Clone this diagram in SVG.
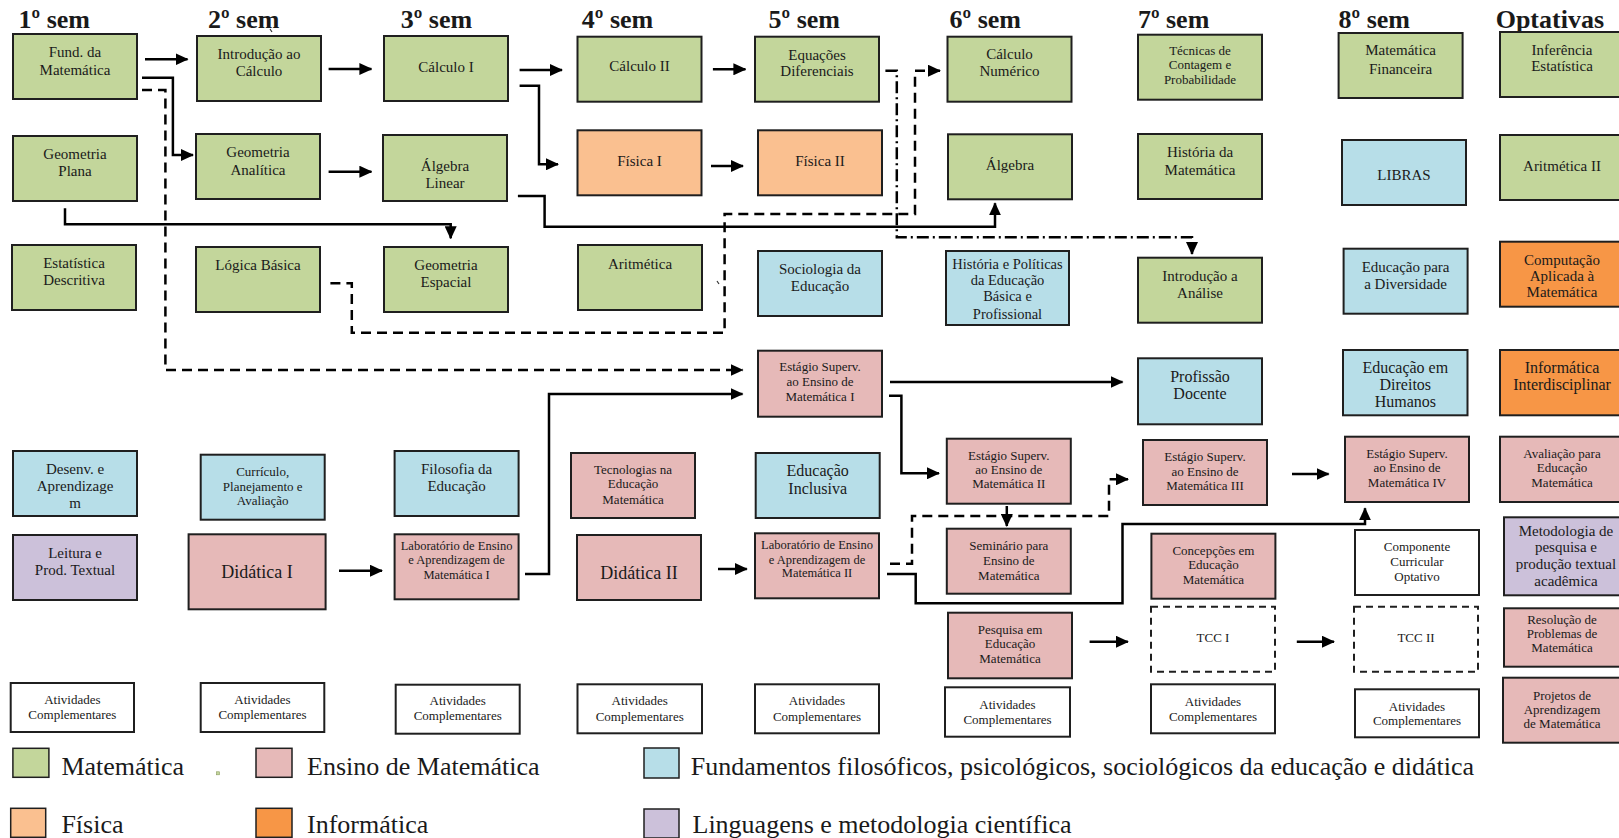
<svg xmlns="http://www.w3.org/2000/svg" width="1619" height="838" viewBox="0 0 1619 838">
<style>
.bx{stroke:#1f1f1f;stroke-width:2}
.g{fill:#C3D69B}.p{fill:#E6B9B8}.bl{fill:#B7DEE8}.f{fill:#FAC090}.o{fill:#F79646}.l{fill:#CCC1DA}.w{fill:#fff}
.dsh{stroke-dasharray:7,5}
text,tspan{font-family:"Liberation Serif","Times New Roman",serif;fill:#1a1a1a}
.t{font-family:"Liberation Serif","Times New Roman",serif;text-anchor:middle;font-size:15px}
.s{font-family:"Liberation Serif","Times New Roman",serif;text-anchor:middle;font-size:13px}
.xs{font-family:"Liberation Serif","Times New Roman",serif;text-anchor:middle;font-size:12.5px}
.L{font-family:"Liberation Serif","Times New Roman",serif;text-anchor:middle;font-size:18px}
.h{font-family:"Liberation Serif","Times New Roman",serif;font-size:26px;font-weight:bold}
.lg{font-family:"Liberation Serif","Times New Roman",serif;font-size:26px}
.c{fill:none;stroke:#000;stroke-width:2.5}
.d{stroke-dasharray:10,6}
.dd{stroke-dasharray:12,4,2,4}
</style>
<defs>
<marker id="ah" markerUnits="userSpaceOnUse" markerWidth="13" markerHeight="12" refX="12" refY="6" orient="auto">
<path d="M0,0 L13,6 L0,12 z" fill="#000"/>
</marker>
</defs>

<g id="headers">
<text class="h" x="18.6" y="28">1º sem</text>
<text class="h" x="208" y="28">2º sem</text>
<text class="h" x="400.7" y="28">3º sem</text>
<text class="h" x="581.8" y="28">4º sem</text>
<text class="h" x="768.6" y="28">5º sem</text>
<text class="h" x="949.6" y="28">6º sem</text>
<text class="h" x="1137.9" y="28">7º sem</text>
<text class="h" x="1338.6" y="28">8º sem</text>
<text class="h" x="1495.7" y="28">Optativas</text>
</g>

<g id="connectors">
<path class="c" d="M145,59.3 H187.5" marker-end="url(#ah)"/>
<path class="c" d="M142,77.7 H172.9 V155 H193" marker-end="url(#ah)"/>
<path class="c d" d="M142,90 H165.4 V370 H742.5" marker-end="url(#ah)"/>
<path class="c" d="M328.6,69 H371.4" marker-end="url(#ah)"/>
<path class="c" d="M519.6,70 H562" marker-end="url(#ah)"/>
<path class="c" d="M519.6,85.7 H539 V164.3 H558" marker-end="url(#ah)"/>
<path class="c" d="M328.6,171.7 H371.4" marker-end="url(#ah)"/>
<path class="c" d="M65,208.3 V224.3 H450.7 V238.3" marker-end="url(#ah)"/>
<path class="c" d="M517.9,196 H544.6 V226.7 H995 V203.3" marker-end="url(#ah)"/>
<path class="c d" d="M330.4,283.3 H351.8 V332.7 H724.6 V214 H915 V70.7 H940" marker-end="url(#ah)"/>
<path class="c" d="M712.9,69.3 H745.4" marker-end="url(#ah)"/>
<path class="c" d="M711,166 H743" marker-end="url(#ah)"/>
<path class="c dd" d="M885.4,70.7 H896.8 V237.3 H1192 V254" marker-end="url(#ah)"/>
<path class="c" d="M525,574 H549 V394 H742.5" marker-end="url(#ah)"/>
<path class="c" d="M339,570.7 H382" marker-end="url(#ah)"/>
<path class="c" d="M718,569 H746.8" marker-end="url(#ah)"/>
<path class="c" d="M890,382 H1122.5" marker-end="url(#ah)"/>
<path class="c" d="M889,395.7 H901.4 V473.3 H939" marker-end="url(#ah)"/>
<path class="c d" d="M890,563.7 H912 V516 H1109 V479.3 H1128" marker-end="url(#ah)"/>
<path class="c" d="M1006.8,506 V526" marker-end="url(#ah)"/>
<path class="c" d="M887,574 H915.7 V603.3 H1122.5 V524 H1365 V508.3" marker-end="url(#ah)"/>
<path class="c" d="M1292,474 H1328.6" marker-end="url(#ah)"/>
<path class="c" d="M1089.6,641.7 H1127.9" marker-end="url(#ah)"/>
<path class="c" d="M1296.8,641.7 H1334" marker-end="url(#ah)"/>
<path d="M270,29 l2,3 M717,281 l2,3" stroke="#333" stroke-width="1.2" fill="none"/>
</g>

<g id="fund"><rect class="bx g" x="13" y="34" width="124" height="65"/><text class="t"><tspan x="75" y="57">Fund. da</tspan><tspan x="75" y="75">Matemática</tspan></text></g>
<g id="intro"><rect class="bx g" x="197" y="36" width="124" height="65"/><text class="t"><tspan x="259" y="59">Introdução ao</tspan><tspan x="259" y="76">Cálculo</tspan></text></g>
<g id="calc1"><rect class="bx g" x="384" y="36" width="124" height="65"/><text class="t"><tspan x="446" y="72">Cálculo I</tspan></text></g>
<g id="geoplana"><rect class="bx g" x="13" y="136" width="124" height="65"/><text class="t"><tspan x="75" y="158.5">Geometria</tspan><tspan x="75" y="176">Plana</tspan></text></g>
<g id="ga"><rect class="bx g" x="196" y="134" width="124" height="65"/><text class="t"><tspan x="258" y="157">Geometria</tspan><tspan x="258" y="174.5">Analítica</tspan></text></g>
<g id="alglin"><rect class="bx g" x="383" y="135" width="124" height="66"/><text class="t"><tspan x="445" y="171">Álgebra</tspan><tspan x="445" y="188">Linear</tspan></text></g>
<g id="estat"><rect class="bx g" x="12" y="245" width="124" height="65"/><text class="t"><tspan x="74" y="267.5">Estatística</tspan><tspan x="74" y="284.5">Descritiva</tspan></text></g>
<g id="logica"><rect class="bx g" x="196" y="247" width="124" height="65"/><text class="t"><tspan x="258" y="269.5">Lógica Básica</tspan></text></g>
<g id="geoesp"><rect class="bx g" x="384" y="247" width="124" height="65"/><text class="t"><tspan x="446" y="269.5">Geometria</tspan><tspan x="446" y="287">Espacial</tspan></text></g>

<g id="calc2"><rect class="bx g" x="577.5" y="36.7" width="124" height="65"/><text class="t"><tspan x="639.5" y="71">Cálculo II</tspan></text></g>
<g id="eqdif"><rect class="bx g" x="755" y="36.7" width="124" height="65"/><text class="t"><tspan x="817" y="59.5">Equações</tspan><tspan x="817" y="76">Diferenciais</tspan></text></g>
<g id="calcnum"><rect class="bx g" x="947.5" y="36.7" width="124" height="65"/><text class="t"><tspan x="1009.5" y="59">Cálculo</tspan><tspan x="1009.5" y="76">Numérico</tspan></text></g>
<g id="fis1"><rect class="bx f" x="577.5" y="130.3" width="124" height="65"/><text class="t"><tspan x="639.5" y="166">Física I</tspan></text></g>
<g id="fis2"><rect class="bx f" x="758" y="130.3" width="124" height="65"/><text class="t"><tspan x="820" y="166">Física II</tspan></text></g>
<g id="algebra"><rect class="bx g" x="948" y="134.3" width="124" height="65"/><text class="t"><tspan x="1010" y="169.5">Álgebra</tspan></text></g>
<g id="aritm"><rect class="bx g" x="578" y="245" width="124" height="65"/><text class="t"><tspan x="640" y="268.5">Aritmética</tspan></text></g>
<g id="socio"><rect class="bx bl" x="758" y="251" width="124" height="65"/><text class="t"><tspan x="820" y="273.5">Sociologia da</tspan><tspan x="820" y="291">Educação</tspan></text></g>
<g id="histpol"><rect class="bx bl" x="946" y="251" width="123" height="74"/><text class="t" style="font-size:14.5px"><tspan x="1007.5" y="268.5">História e Políticas</tspan><tspan x="1007.5" y="284.5">da Educação</tspan><tspan x="1007.5" y="301">Básica e</tspan><tspan x="1007.5" y="319">Profissional</tspan></text></g>

<g id="tecnicas"><rect class="bx g" x="1138" y="34.7" width="124" height="65"/><text class="s"><tspan x="1200" y="55">Técnicas de</tspan><tspan x="1200" y="69.3">Contagem e</tspan><tspan x="1200" y="84.3">Probabilidade</tspan></text></g>
<g id="matfin"><rect class="bx g" x="1338.6" y="33" width="124" height="65"/><text class="t"><tspan x="1400.6" y="55">Matemática</tspan><tspan x="1400.6" y="73.5">Financeira</tspan></text></g>
<g id="inferencia"><rect class="bx g" x="1500" y="32" width="124" height="65"/><text class="t"><tspan x="1562" y="54.5">Inferência</tspan><tspan x="1562" y="71">Estatística</tspan></text></g>
<g id="histmat"><rect class="bx g" x="1138" y="134" width="124" height="65"/><text class="t"><tspan x="1200" y="157">História da</tspan><tspan x="1200" y="174.5">Matemática</tspan></text></g>
<g id="libras"><rect class="bx bl" x="1342" y="140" width="124" height="65"/><text class="t"><tspan x="1404" y="179.5">LIBRAS</tspan></text></g>
<g id="aritm2"><rect class="bx g" x="1500" y="135" width="124" height="65"/><text class="t"><tspan x="1562" y="170.5">Aritmética II</tspan></text></g>
<g id="introanalise"><rect class="bx g" x="1138" y="257.7" width="124" height="65"/><text class="t"><tspan x="1200" y="280.5">Introdução a</tspan><tspan x="1200" y="297.5">Análise</tspan></text></g>
<g id="edudiv"><rect class="bx bl" x="1343.6" y="248.7" width="124" height="65"/><text class="t"><tspan x="1405.6" y="272">Educação para</tspan><tspan x="1405.6" y="288.5">a Diversidade</tspan></text></g>
<g id="compapl"><rect class="bx o" x="1500" y="241.7" width="124" height="65"/><text class="t"><tspan x="1562" y="264.5">Computação</tspan><tspan x="1562" y="280.5">Aplicada à</tspan><tspan x="1562" y="297">Matemática</tspan></text></g>

<g id="desenv"><rect class="bx bl" x="13" y="451" width="124" height="65"/><text class="t"><tspan x="75" y="473.5">Desenv. e</tspan><tspan x="75" y="491">Aprendizage</tspan><tspan x="75" y="508">m</tspan></text></g>
<g id="leitura"><rect class="bx l" x="13" y="535" width="124" height="65"/><text class="t"><tspan x="75" y="557.5">Leitura e</tspan><tspan x="75" y="574.5">Prod. Textual</tspan></text></g>
<g id="curriculo"><rect class="bx bl" x="200.7" y="454.7" width="124" height="65"/><text class="s"><tspan x="262.7" y="475.5">Currículo,</tspan><tspan x="262.7" y="490.5">Planejamento e</tspan><tspan x="262.7" y="505">Avaliação</tspan></text></g>
<g id="didatica1"><rect class="bx p" x="188.6" y="534.3" width="137" height="75"/><text class="L"><tspan x="257.1" y="578">Didática I</tspan></text></g>
<g id="filosofia"><rect class="bx bl" x="394.6" y="451" width="124" height="65"/><text class="t"><tspan x="456.6" y="473.5">Filosofia da</tspan><tspan x="456.6" y="491">Educação</tspan></text></g>
<g id="lab1"><rect class="bx p" x="394.6" y="534.3" width="124" height="65"/><text class="xs"><tspan x="456.6" y="549.5">Laboratório de Ensino</tspan><tspan x="456.6" y="563.8">e Aprendizagem de</tspan><tspan x="456.6" y="578.5">Matemática I</tspan></text></g>
<g id="estagio1"><rect class="bx p" x="758" y="350.7" width="124" height="66"/><text class="s"><tspan x="820" y="371">Estágio Superv.</tspan><tspan x="820" y="386">ao Ensino de</tspan><tspan x="820" y="400.5">Matemática I</tspan></text></g>
<g id="tecnologias"><rect class="bx p" x="571" y="453" width="124" height="65"/><text class="s"><tspan x="633" y="473.5">Tecnologias na</tspan><tspan x="633" y="487.8">Educação</tspan><tspan x="633" y="503.5">Matemática</tspan></text></g>
<g id="didatica2"><rect class="bx p" x="577" y="535" width="124" height="65"/><text class="L"><tspan x="639" y="579">Didática II</tspan></text></g>
<g id="eduinc"><rect class="bx bl" x="755.7" y="453" width="124" height="65"/><text class="t" style="font-size:16px"><tspan x="817.7" y="475.5">Educação</tspan><tspan x="817.7" y="494">Inclusiva</tspan></text></g>
<g id="lab2"><rect class="bx p" x="755" y="533.3" width="124" height="65"/><text class="xs"><tspan x="817" y="548.5">Laboratório de Ensino</tspan><tspan x="817" y="563.5">e Aprendizagem de</tspan><tspan x="817" y="577">Matemática II</tspan></text></g>
<g id="estagio2"><rect class="bx p" x="946.8" y="438.7" width="124" height="65"/><text class="s"><tspan x="1008.8" y="459.5">Estágio Superv.</tspan><tspan x="1008.8" y="473.5">ao Ensino de</tspan><tspan x="1008.8" y="487.8">Matemática II</tspan></text></g>
<g id="seminario"><rect class="bx p" x="946.8" y="528.7" width="124" height="65"/><text class="s"><tspan x="1008.8" y="549.5">Seminário para</tspan><tspan x="1008.8" y="564.5">Ensino de</tspan><tspan x="1008.8" y="579.5">Matemática</tspan></text></g>
<g id="pesquisa"><rect class="bx p" x="948" y="612.7" width="124" height="65.6"/><text class="s"><tspan x="1010" y="633.5">Pesquisa em</tspan><tspan x="1010" y="648">Educação</tspan><tspan x="1010" y="663">Matemática</tspan></text></g>

<g id="profdoc"><rect class="bx bl" x="1138" y="358.3" width="124" height="66"/><text class="t" style="font-size:16px"><tspan x="1200" y="381.5">Profissão</tspan><tspan x="1200" y="399">Docente</tspan></text></g>
<g id="estagio3"><rect class="bx p" x="1143" y="440" width="124" height="65"/><text class="s"><tspan x="1205" y="460.5">Estágio Superv.</tspan><tspan x="1205" y="475.5">ao Ensino de</tspan><tspan x="1205" y="490">Matemática III</tspan></text></g>
<g id="concepcoes"><rect class="bx p" x="1151.4" y="533.7" width="124" height="65"/><text class="s"><tspan x="1213.4" y="554.5">Concepções em</tspan><tspan x="1213.4" y="568.5">Educação</tspan><tspan x="1213.4" y="583.5">Matemática</tspan></text></g>
<g id="tcc1"><rect class="bx w dsh" x="1151" y="606.7" width="124" height="65"/><text class="s"><tspan x="1213" y="641.5">TCC I</tspan></text></g>
<g id="eduDH"><rect class="bx bl" x="1343" y="350" width="124.5" height="65.3"/><text class="t" style="font-size:16px"><tspan x="1405.3" y="373">Educação em</tspan><tspan x="1405.3" y="390">Direitos</tspan><tspan x="1405.3" y="407">Humanos</tspan></text></g>
<g id="estagio4"><rect class="bx p" x="1345" y="436.7" width="124" height="65.3"/><text class="s"><tspan x="1407" y="458">Estágio Superv.</tspan><tspan x="1407" y="472.3">ao Ensino de</tspan><tspan x="1407" y="486.7">Matemática IV</tspan></text></g>
<g id="compopt"><rect class="bx w" x="1355" y="530" width="124" height="65"/><text class="s"><tspan x="1417" y="550.5">Componente</tspan><tspan x="1417" y="565.5">Curricular</tspan><tspan x="1417" y="580.5">Optativo</tspan></text></g>
<g id="tcc2"><rect class="bx w dsh" x="1354" y="606.7" width="124" height="65"/><text class="s"><tspan x="1416" y="641.5">TCC II</tspan></text></g>
<g id="infointer"><rect class="bx o" x="1500" y="350" width="124" height="65.3"/><text class="t" style="font-size:16px"><tspan x="1562" y="373">Informática</tspan><tspan x="1562" y="390">Interdisciplinar</tspan></text></g>
<g id="avaliacao"><rect class="bx p" x="1500" y="436.7" width="124" height="65.3"/><text class="s"><tspan x="1562" y="458">Avaliação para</tspan><tspan x="1562" y="472.3">Educação</tspan><tspan x="1562" y="486.7">Matemática</tspan></text></g>
<g id="metodologia"><rect class="bx l" x="1504" y="517.3" width="124" height="78"/><text class="t"><tspan x="1566" y="535.5">Metodologia de</tspan><tspan x="1566" y="552">pesquisa e</tspan><tspan x="1566" y="568.5">produção textual</tspan><tspan x="1566" y="585.5">acadêmica</tspan></text></g>
<g id="resolucao"><rect class="bx p" x="1504" y="608.3" width="124" height="58.4"/><text class="s"><tspan x="1562" y="624">Resolução de</tspan><tspan x="1562" y="638">Problemas de</tspan><tspan x="1562" y="652">Matemática</tspan></text></g>
<g id="projetos"><rect class="bx p" x="1503" y="677.7" width="124" height="65"/><text class="s"><tspan x="1562" y="699.5">Projetos de</tspan><tspan x="1562" y="714">Aprendizagem</tspan><tspan x="1562" y="728">de Matemática</tspan></text></g>

<g id="ativ1"><rect class="bx w" x="10.7" y="683" width="123.3" height="49"/><text class="s"><tspan x="72.4" y="703.5">Atividades</tspan><tspan x="72.4" y="718.5">Complementares</tspan></text></g>
<g id="ativ2"><rect class="bx w" x="200.7" y="683" width="123.6" height="49"/><text class="s"><tspan x="262.5" y="703.5">Atividades</tspan><tspan x="262.5" y="718.5">Complementares</tspan></text></g>
<g id="ativ3"><rect class="bx w" x="395.7" y="684.7" width="124" height="49"/><text class="s"><tspan x="457.7" y="705">Atividades</tspan><tspan x="457.7" y="720">Complementares</tspan></text></g>
<g id="ativ4"><rect class="bx w" x="577.5" y="684.3" width="124.5" height="49"/><text class="s"><tspan x="639.7" y="705">Atividades</tspan><tspan x="639.7" y="721">Complementares</tspan></text></g>
<g id="ativ5"><rect class="bx w" x="755" y="684.3" width="124" height="49"/><text class="s"><tspan x="817" y="705">Atividades</tspan><tspan x="817" y="721">Complementares</tspan></text></g>
<g id="ativ6"><rect class="bx w" x="945" y="687.3" width="125" height="49.4"/><text class="s"><tspan x="1007.5" y="708.5">Atividades</tspan><tspan x="1007.5" y="723.5">Complementares</tspan></text></g>
<g id="ativ7"><rect class="bx w" x="1151" y="684.3" width="124" height="49"/><text class="s"><tspan x="1213" y="706">Atividades</tspan><tspan x="1213" y="721">Complementares</tspan></text></g>
<g id="ativ8"><rect class="bx w" x="1355" y="689.3" width="124" height="48"/><text class="s"><tspan x="1417" y="710.5">Atividades</tspan><tspan x="1417" y="725">Complementares</tspan></text></g>

<g id="legend">
<rect class="g" x="12.9" y="748.3" width="36" height="29" stroke="#1f1f1f" stroke-width="1.5"/>
<text class="lg" x="61.4" y="775">Matemática</text>
<rect x="216.5" y="771.8" width="3" height="3" fill="#C3D69B" stroke="#8a9a60" stroke-width="0.6"/>
<rect class="p" x="256" y="748.3" width="36" height="29" stroke="#1f1f1f" stroke-width="1.5"/>
<text class="lg" x="307" y="775">Ensino de Matemática</text>
<rect class="bl" x="644" y="748" width="35" height="30" stroke="#1f1f1f" stroke-width="1.5"/>
<text class="lg" x="690.7" y="775">Fundamentos filosóficos, psicológicos, sociológicos da educação e didática</text>
<rect class="f" x="10.7" y="808.3" width="35" height="29" stroke="#1f1f1f" stroke-width="1.5"/>
<text class="lg" x="61.4" y="833">Física</text>
<rect class="o" x="256" y="808.3" width="36" height="29" stroke="#1f1f1f" stroke-width="1.5"/>
<text class="lg" x="307" y="833">Informática</text>
<rect class="l" x="644" y="809" width="35" height="29" stroke="#1f1f1f" stroke-width="1.5"/>
<text class="lg" x="692.5" y="833">Linguagens e metodologia científica</text>
</g>
</svg>
